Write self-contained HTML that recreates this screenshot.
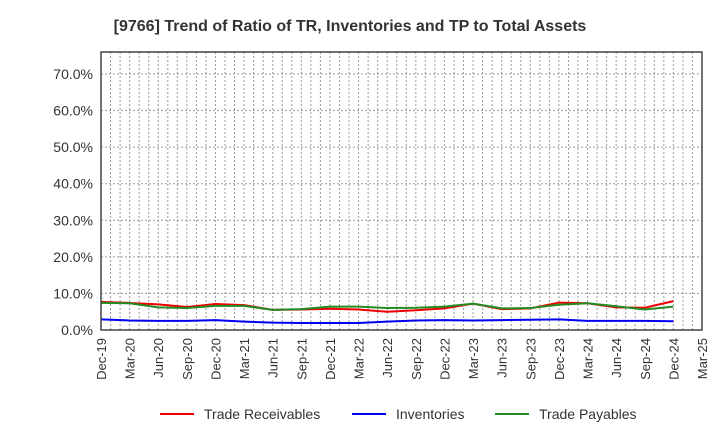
<!DOCTYPE html>
<html><head><meta charset="utf-8"><style>
body{margin:0;background:#fff;font-family:"Liberation Sans",sans-serif}
</style></head><body>
<svg id="c" width="720" height="440" xmlns="http://www.w3.org/2000/svg">
<text x="350" y="31" text-anchor="middle" font-size="16" font-weight="bold" fill="#333">[9766]  Trend of Ratio of TR, Inventories and TP to Total Assets</text>
<g id="grid"></g><g id="series"></g><g id="axes"></g>
<g font-size="14" fill="#333">
<line x1="160" y1="414" x2="194" y2="414" stroke="#e00" stroke-width="2"/><text x="204" y="419">Trade Receivables</text>
<line x1="352" y1="414" x2="386" y2="414" stroke="#00e" stroke-width="2"/><text x="396" y="419">Inventories</text>
<line x1="495" y1="414" x2="529" y2="414" stroke="#228b22" stroke-width="2"/><text x="539" y="419">Trade Payables</text>
</g>
</svg>
<script>
const categories=["Dec-19","Mar-20","Jun-20","Sep-20","Dec-20","Mar-21","Jun-21","Sep-21","Dec-21","Mar-22","Jun-22","Sep-22","Dec-22","Mar-23","Jun-23","Sep-23","Dec-23","Mar-24","Jun-24","Sep-24","Dec-24","Mar-25"];
const tradeReceivables=[7.7,7.4,7.0,6.3,7.1,6.8,5.5,5.6,5.8,5.6,5.0,5.4,5.9,7.2,5.7,5.9,7.5,7.3,6.2,6.1,7.9];
const inventories=[2.9,2.6,2.5,2.5,2.7,2.3,2.0,1.9,1.9,1.9,2.3,2.6,2.7,2.6,2.7,2.8,2.9,2.5,2.5,2.5,2.4];
const tradePayables=[7.4,7.3,6.2,6.0,6.6,6.6,5.5,5.7,6.4,6.4,6.0,6.1,6.4,7.2,5.9,6.0,6.9,7.3,6.5,5.6,6.4];
const yTicks=[0,10,20,30,40,50,60,70];
const X0=101,X1=702,Y0=330,YT=52;
const x=i=>X0+(X1-X0)*i/(categories.length-1);
const y=v=>Y0-v*(330-74)/70;
const NS="http://www.w3.org/2000/svg";
function mk(p,t,a){const e=document.createElementNS(NS,t);for(const k in a)e.setAttribute(k,a[k]);document.getElementById(p).appendChild(e);return e;}
const nm=(categories.length-1)*3;
for(let m=1;m<nm;m++){const xx=X0+(X1-X0)*m/nm;const l=mk('grid','line',{x1:xx,x2:xx,y1:YT,y2:Y0,stroke:'#999','stroke-dasharray':'2,2','stroke-width':1});

}
yTicks.forEach(v=>{if(v>0){const l=mk('grid','line',{x1:X0,x2:X1,y1:y(v),y2:y(v),stroke:'#999','stroke-dasharray':'2,2'});

}
const t=mk('axes','text',{x:X0-8,y:y(v)+5,'text-anchor':'end','font-size':14,fill:'#333'});t.textContent=v.toFixed(1)+'%';

});
const r=mk('axes','rect',{x:X0,y:YT,width:X1-X0,height:Y0-YT,fill:'none',stroke:'#444','stroke-width':1.5});


categories.forEach((c,i)=>{const t=mk('axes','text',{transform:`translate(${x(i)+5},${Y0+8}) rotate(-90)`,'text-anchor':'end','font-size':13,fill:'#333'});t.textContent=c;

});
[[tradeReceivables,'#e00','trade-receivables-line'],[inventories,'#00e','inventories-line'],[tradePayables,'#228b22','trade-payables-line']].forEach(([d,col,n])=>{
const p=mk('series','polyline',{points:d.map((v,i)=>x(i)+','+y(v)).join(' '),fill:'none',stroke:col,'stroke-width':2});

});
</script>
</body></html>
